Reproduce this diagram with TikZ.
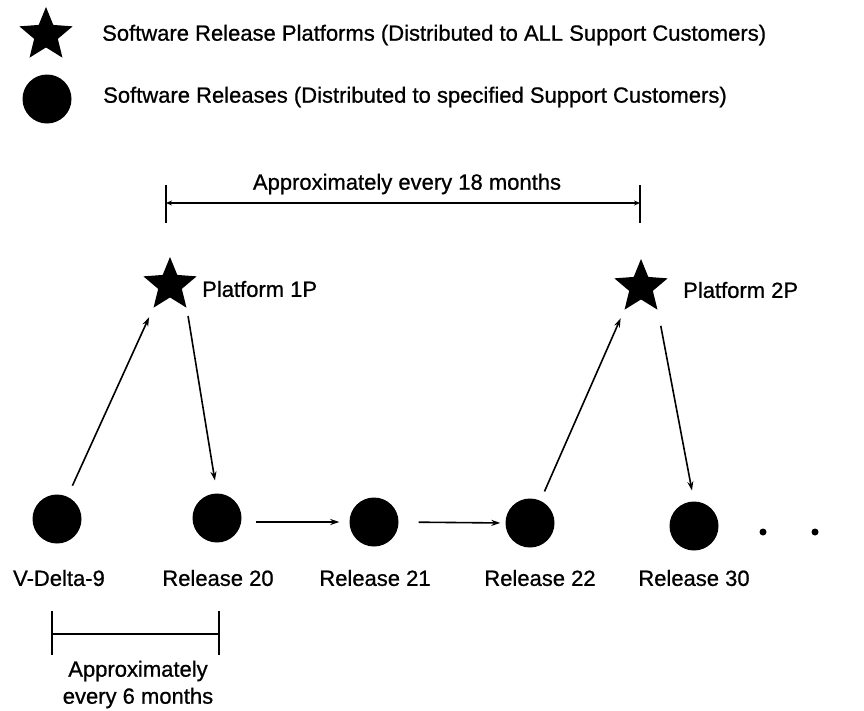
\documentclass[tikz,border=0pt]{standalone}
\usepackage{fontspec}
\setmainfont[FakeBold=0.8]{Liberation Sans}
\usetikzlibrary{shapes.geometric,arrows.meta}
\begin{document}
\begin{tikzpicture}[x=1pt,y=-1pt,
  lbl/.style={font=\fontsize{22}{26}\selectfont, inner sep=0pt},
  starnode/.style={star, star points=5, star point ratio=2.25, fill=black, minimum size=56pt, inner sep=0pt},
  relnode/.style={circle, fill=black, minimum size=49pt, inner sep=0pt},
  dotnode/.style={circle, fill=black, minimum size=7pt, inner sep=0pt},
  arr/.style={line width=1.6pt, -{Stealth[length=9pt,width=6pt]}},
  dimline/.style={line width=1.8pt},
  dimarr/.style={line width=1.8pt, {Stealth[length=6pt,width=5pt]}-{Stealth[length=6pt,width=5pt]}}]
\useasboundingbox (0,0) rectangle (864,710);

% legend
\node[starnode] (legstar) at (46,35) {};
\node[lbl, anchor=west] (leg1) at (102,35) {Software Release Platforms (Distributed to ALL Support Customers)};
\node[relnode] (legcirc) at (47,99) {};
\node[lbl, anchor=west] (leg2) at (103,97) {Software Releases (Distributed to specified Support Customers)};

% top dimension
\coordinate (ta) at (166,185);
\coordinate (tb) at (166,223);
\coordinate (tc) at (640,185);
\coordinate (td) at (640,223);
\coordinate (tl) at (166,203);
\coordinate (tr) at (640,203);
\draw[dimline] (ta) -- (tb);
\draw[dimline] (tc) -- (td);
\draw[dimarr] (tl) -- (tr);
\node[lbl] (toptxt) at (407,184) {Approximately every 18 months};

% platforms
\node[starnode] (p1) at (170,285) {};
\node[lbl, anchor=west] (p1l) at (202,289) {Platform 1P};
\node[starnode] (p2) at (641,287) {};
\node[lbl, anchor=west] (p2l) at (683,290) {Platform 2P};

% releases
\node[relnode] (v9) at (57,519) {};
\node[relnode] (r20) at (217,518) {};
\node[relnode] (r21) at (374,522) {};
\node[relnode] (r22) at (530,523) {};
\node[relnode] (r30) at (694,526) {};
\node[dotnode] (dot1) at (763,532) {};
\node[dotnode] (dot2) at (815,532) {};

\node[lbl] (v9l) at (59,578) {V-Delta-9};
\node[lbl] (r20l) at (218,578) {Release 20};
\node[lbl] (r21l) at (375,578) {Release 21};
\node[lbl] (r22l) at (540,578) {Release 22};
\node[lbl] (r30l) at (694,578) {Release 30};

% connectors
\draw[arr, shorten <=12pt, shorten >=10pt] (v9.65) -- (p1.outer point 3);
\draw[arr, shorten <=8pt, shorten >=13pt] (p1.outer point 4) -- (r20.north);
\draw[arr, shorten <=14pt, shorten >=10pt] (r20.east |- r21.west) -- (r21.west);
\draw[arr, shorten <=20pt, shorten >=5pt] (r21.east) -- (r22.west);
\draw[arr, shorten <=10pt, shorten >=9pt] (r22.65) -- (p2.outer point 3);
\draw[arr, shorten <=16pt, shorten >=11pt] (p2.outer point 4) -- (r30.north);

% bottom dimension
\coordinate (ba) at (52,611);
\coordinate (bb) at (52,655);
\coordinate (bc) at (219,611);
\coordinate (bd) at (219,655);
\coordinate (bl) at (52,634);
\coordinate (br) at (219,634);
\draw[dimline] (ba) -- (bb);
\draw[dimline] (bc) -- (bd);
\draw[line width=2.4pt] (bl) -- (br);
\node[lbl] (bt1) at (138,671) {Approximately};
\node[lbl] (bt2) at (138,698) {every 6 months};
\end{tikzpicture}
\end{document}
